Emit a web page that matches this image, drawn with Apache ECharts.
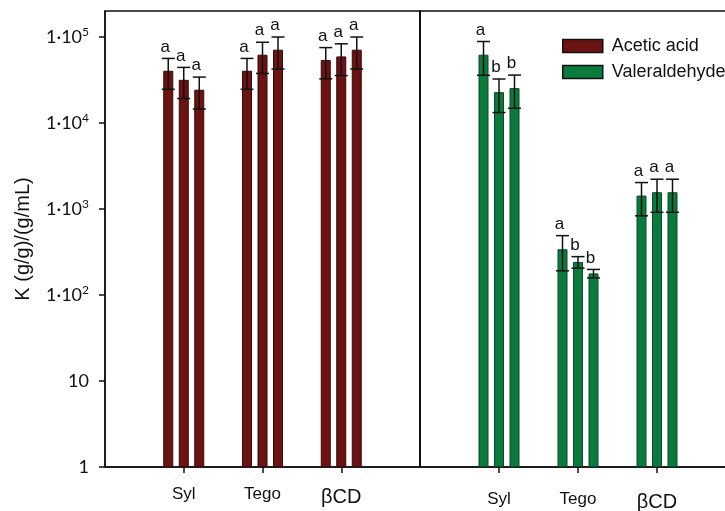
<!DOCTYPE html>
<html>
<head>
<meta charset="utf-8">
<script src="https://cdn.jsdelivr.net/npm/echarts@6/dist/echarts.min.js"></script>
<style>
html,body{margin:0;padding:0;background:#fff;}
#c{width:725px;height:511px;}
</style>
</head>
<body>
<div id="c"></div>
<script>
// ---------- data ----------
const categories = ['', 'Syl', 'Tego', 'βCD', ''];
const yTickValues = [1, 10, 100, 1000, 10000, 100000];

// Acetic acid: three bars per group (Syl, Tego, βCD)
const acetic1 = [40400, 40400, 53800];
const acetic2 = [31700, 62100, 59300];
const acetic3 = [24300, 71000, 71000];
const aceticErr1 = [15800, 15800, 21300];
const aceticErr2 = [12500, 24500, 23800];
const aceticErr3 = [9800, 28700, 28700];
const aceticLetters1 = ['a', 'a', 'a'];
const aceticLetters2 = ['a', 'a', 'a'];
const aceticLetters3 = ['a', 'a', 'a'];

// Valeraldehyde
const valer1 = [62100, 340, 1429];
const valer2 = [22800, 242, 1565];
const valer3 = [25400, 178, 1565];
const valerErr1 = [26300, 149, 597];
const valerErr2 = [9600, 37, 651];
const valerErr3 = [10600, 20, 651];
const valerLetters1 = ['a', 'a', 'a'];
const valerLetters2 = ['b', 'b', 'a'];
const valerLetters3 = ['b', 'b', 'a'];

// ---------- style ----------
const BAR_W = 10;
const BAR_STEP = 15.5;
const CAP = 6.5;
const INK = '#111';
const RED = '#6b1212', RED_B = '#3c0707';
const GREEN = '#0d7a3d', GREEN_B = '#064d24';

function pad(arr) { return [null].concat(arr, [null]); }

function buildRows(means, errs, letters) {
  const rows = [], lets = [];
  for (let i = 0; i < 3; i++) {
    for (let k = 0; k < 3; k++) {
      rows.push([i + 1, k, means[k][i], errs[k][i]]);
      lets.push(letters[k][i]);
    }
  }
  return {rows, lets};
}

function errRender(lets) {
  return function (params, api) {
    const cat = api.value(0), k = api.value(1), m = api.value(2), e = api.value(3);
    const hi = api.coord([cat, m + e]);
    const lo = api.coord([cat, Math.max(m - e, 1)]);
    const x = hi[0] + (k - 1) * BAR_STEP;
    const st = {stroke: INK, lineWidth: 1.5};
    return {
      type: 'group',
      children: [
        {type: 'line', shape: {x1: x, y1: hi[1], x2: x, y2: lo[1]}, style: st},
        {type: 'line', shape: {x1: x - CAP, y1: hi[1], x2: x + CAP, y2: hi[1]}, style: st},
        {type: 'line', shape: {x1: x - CAP, y1: lo[1], x2: x + CAP, y2: lo[1]}, style: st},
        {type: 'text', x: x - 3, y: hi[1] - 3,
          style: {text: lets[params.dataIndex], fill: INK, fontSize: 17,
            fontFamily: 'Liberation Sans', align: 'center', verticalAlign: 'bottom'}}
      ]
    };
  };
}

const ac = buildRows([acetic1, acetic2, acetic3], [aceticErr1, aceticErr2, aceticErr3],
  [aceticLetters1, aceticLetters2, aceticLetters3]);
const va = buildRows([valer1, valer2, valer3], [valerErr1, valerErr2, valerErr3],
  [valerLetters1, valerLetters2, valerLetters3]);

function yLabel(v) {
  const lg = Math.log10(v);
  const e = Math.round(lg);
  if (Math.abs(lg - e) > 1e-6) return '';
  if (e === 0) return '{b|1}';
  if (e === 1) return '{b|10}';
  return '{b|1·10}{s|' + e + '}';
}

function xAxisCfg(gridIndex, margin) {
  return {
    type: 'category', gridIndex, data: categories, boundaryGap: false,
    axisLine: {lineStyle: {color: INK, width: 1.5}},
    axisTick: {show: true, length: 6, interval: (i) => i >= 1 && i <= 3, lineStyle: {color: INK, width: 1.5}},
    axisLabel: {
      margin, interval: 0, color: INK,
      formatter: (v) => v === 'βCD' ? '{g|' + v + '}' : '{n|' + v + '}',
      rich: {
        n: {fontSize: 17, fontFamily: 'Liberation Sans', color: INK},
        g: {fontSize: 20, fontFamily: 'Liberation Sans', color: INK, padding: [1, 0, 0, 0]}
      }
    },
    splitLine: {show: false}
  };
}

const chart = echarts.init(document.getElementById('c'), null, {renderer: 'canvas'});
chart.setOption({
  animation: false,
  backgroundColor: '#fff',
  grid: [
    {left: 105, top: 11, width: 315, height: 456, show: true, borderColor: INK, borderWidth: 1.5,
      containLabel: false, outerBoundsMode: 'none'},
    {left: 420, top: 11, width: 316, height: 456, show: true, borderColor: INK, borderWidth: 1.5,
      containLabel: false, outerBoundsMode: 'none'}
  ],
  legend: {
    orient: 'vertical', left: 562, top: 36, padding: 0, itemWidth: 40, itemHeight: 13, itemGap: 6,
    icon: 'rect',
    data: ['Acetic acid', 'Valeraldehyde'],
    itemStyle: {borderColor: INK, borderWidth: 1.5},
    textStyle: {fontSize: 18, fontFamily: 'Liberation Sans', color: INK, lineHeight: 20, padding: [0, 0, 0, 4]}
  },
  xAxis: [xAxisCfg(0, 19), xAxisCfg(1, 24)],
  yAxis: [
    {
      type: 'log', logBase: 10, gridIndex: 0, min: 1, max: 200000,
      name: 'K (g/g)/(g/mL)', nameLocation: 'middle', nameGap: 72, nameRotate: 90,
      nameTextStyle: {fontSize: 20, fontFamily: 'Liberation Sans', color: INK},
      axisLine: {show: true, lineStyle: {color: INK, width: 1.5}},
      axisTick: {show: true, length: 6, customValues: yTickValues, lineStyle: {color: INK, width: 1.5}},
      axisLabel: {
        margin: 16, color: INK, customValues: yTickValues, formatter: yLabel,
        rich: {
          b: {fontSize: 18, fontFamily: 'Lato', color: INK},
          s: {fontSize: 12, fontFamily: 'Lato', color: INK, padding: [0, 0, 9, 0]}
        }
      },
      splitLine: {show: false}
    },
    {
      type: 'log', logBase: 10, gridIndex: 1, min: 1, max: 200000,
      axisLine: {show: true, lineStyle: {color: INK, width: 2}},
      axisTick: {show: false}, axisLabel: {show: false}, splitLine: {show: false}
    }
  ],
  series: [
    {type: 'bar', name: 'Acetic acid', xAxisIndex: 0, yAxisIndex: 0, data: pad(acetic1), barWidth: BAR_W, barGap: '55%',
      itemStyle: {color: RED, borderColor: RED_B, borderWidth: 1}},
    {type: 'bar', name: 'Acetic acid', xAxisIndex: 0, yAxisIndex: 0, data: pad(acetic2), barWidth: BAR_W, barGap: '55%',
      itemStyle: {color: RED, borderColor: RED_B, borderWidth: 1}},
    {type: 'bar', name: 'Acetic acid', xAxisIndex: 0, yAxisIndex: 0, data: pad(acetic3), barWidth: BAR_W, barGap: '55%',
      itemStyle: {color: RED, borderColor: RED_B, borderWidth: 1}},
    {type: 'bar', name: 'Valeraldehyde', xAxisIndex: 1, yAxisIndex: 1, data: pad(valer1), barWidth: BAR_W, barGap: '55%',
      itemStyle: {color: GREEN, borderColor: GREEN_B, borderWidth: 1}},
    {type: 'bar', name: 'Valeraldehyde', xAxisIndex: 1, yAxisIndex: 1, data: pad(valer2), barWidth: BAR_W, barGap: '55%',
      itemStyle: {color: GREEN, borderColor: GREEN_B, borderWidth: 1}},
    {type: 'bar', name: 'Valeraldehyde', xAxisIndex: 1, yAxisIndex: 1, data: pad(valer3), barWidth: BAR_W, barGap: '55%',
      itemStyle: {color: GREEN, borderColor: GREEN_B, borderWidth: 1}},
    {type: 'custom', name: 'errA', xAxisIndex: 0, yAxisIndex: 0, data: ac.rows, encode: {x: 0, y: 2},
      renderItem: errRender(ac.lets), z: 5, clip: false},
    {type: 'custom', name: 'errV', xAxisIndex: 1, yAxisIndex: 1, data: va.rows, encode: {x: 0, y: 2},
      renderItem: errRender(va.lets), z: 5, clip: false}
  ]
});
</script>
</body>
</html>
